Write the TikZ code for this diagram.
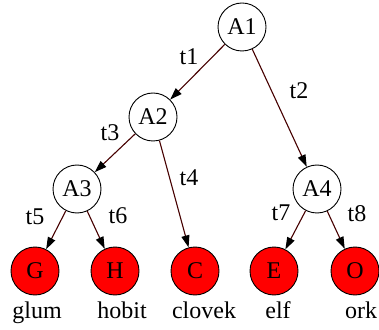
\documentclass[tikz,border=0pt]{standalone}
\usepackage{fontspec}
\setmainfont{Liberation Serif}
\usepackage{xcolor}
\usetikzlibrary{arrows.meta}

\definecolor{edgered}{RGB}{70,0,0}

\begin{document}
\begin{tikzpicture}[x=1pt, y=1pt,
    every node/.style={font=\rmfamily\fontsize{24}{28}\selectfont},
    inner/.style={draw, circle, line width=0.9pt, minimum size=48pt, inner sep=0pt},
    leaf/.style={inner, fill=red},
    trans/.style={edgered, line width=1.1pt, -{Triangle[black, length=12pt, width=8pt]}},
    tlabel/.style={inner sep=0pt}
  ]

    \useasboundingbox (0, 0) rectangle (379, 329);

    % inner nodes
    \node[inner] (a1) at (242, 302) {A1};
    \node[inner] (a2) at (153, 212) {A2};
    \node[inner] (a3) at (77, 140) {A3};
    \node[inner] (a4) at (317, 140) {A4};

    % leaves
    \node[leaf] (g) at (35, 58) {G};
    \node[leaf] (h) at (115, 58) {H};
    \node[leaf] (c) at (195, 58) {C};
    \node[leaf] (e) at (274, 58) {E};
    \node[leaf] (o) at (355, 58) {O};

    % names under the leaves
    \node[anchor=base, inner sep=0pt] (glum) at (37, 11) {glum};
    \node[anchor=base, inner sep=0pt] (hobit) at (122, 11) {hobit};
    \node[anchor=base, inner sep=0pt] (clovek) at (204, 11) {clovek};
    \node[anchor=base, inner sep=0pt] (elf) at (278, 11) {elf};
    \node[anchor=base, inner sep=0pt] (ork) at (361, 11) {ork};

    % transitions
    \draw[trans] (a1) -- (a2) node[tlabel, black] at (189, 272) {t1};
    \draw[trans] (a1) -- (a4) node[tlabel, black] at (299, 238) {t2};
    \draw[trans] (a2) -- (a3) node[tlabel, black] at (110, 196) {t3};
    \draw[trans] (a2) -- (c) node[tlabel, black] at (189, 151) {t4};
    \draw[trans] (a3) -- (g) node[tlabel, black] at (35, 112) {t5};
    \draw[trans] (a3) -- (h) node[tlabel, black] at (118, 113) {t6};
    \draw[trans] (a4) -- (e) node[tlabel, black] at (281, 116) {t7};
    \draw[trans] (a4) -- (o) node[tlabel, black] at (357, 115) {t8};

\end{tikzpicture}
\end{document}
